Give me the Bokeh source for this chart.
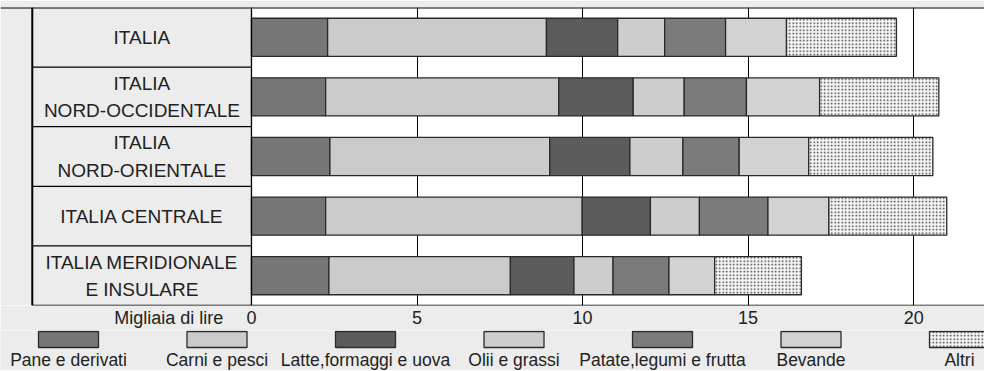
from bokeh.plotting import figure
from bokeh.models import Range1d, FixedTicker, Span, BoxAnnotation, ColumnDataSource
from bokeh.layouts import column
from bokeh.embed import file_html
from bokeh.resources import INLINE
from bokeh.core.properties import value

# ---------------- data ----------------
regions = ["ITALIA", "ITALIA\nNORD-OCCIDENTALE", "ITALIA\nNORD-ORIENTALE",
           "ITALIA CENTRALE", "ITALIA MERIDIONALE\nE INSULARE"]
categories = ["Pane e derivati", "Carni e pesci", "Latte,formaggi e uova",
              "Olii e grassi", "Patate,legumi e frutta", "Bevande", "Altri"]
pane = [2.30, 2.24, 2.37, 2.24, 2.34]
carni = [6.61, 7.04, 6.64, 7.75, 5.48]
latte = [2.15, 2.25, 2.42, 2.06, 1.92]
olii = [1.42, 1.54, 1.60, 1.48, 1.18]
patate = [1.84, 1.88, 1.70, 2.07, 1.69]
bevande = [1.84, 2.21, 2.10, 1.84, 1.38]
altri = [3.32, 3.60, 3.75, 3.56, 2.62]
x_ticks = [0, 5, 10, 15, 20]
x_unit_label = "Migliaia di lire"

# ---------------- style ----------------
colors = ["#777777", "#cbcbcb", "#5c5c5c", "#cdcdcd", "#7b7b7b", "#d2d2d2", "#f6f6f6"]
patterns = [" ", " ", " ", " ", " ", " ", "dot"]
FONT = value("Liberation Sans")
PAPER = "#ececec"
INK = "#222222"
X_MIN, X_MAX = -7.58, 22.14      # visible range (includes the label panel on the left)
X_PANEL = -6.62                  # left border of the label panel
n = len(regions)

series = [pane, carni, latte, olii, patate, bevande, altri]
data = {"row": [n - i - 0.5 for i in range(n)], "label": regions}
for c, s in zip(categories, series):
    data[c] = s
src = ColumnDataSource(data)

p = figure(frame_width=984, frame_height=298,
           x_range=Range1d(X_MIN, X_MAX), y_range=Range1d(0, n),
           output_backend="svg", toolbar_location=None,
           min_border_left=0, min_border_right=0, min_border_top=7, min_border_bottom=0,
           background_fill_color="white", border_fill_color=PAPER,
           outline_line_color=None, y_axis_location=None)

# label panel background
p.add_layout(BoxAnnotation(right=0, fill_color=PAPER, fill_alpha=1, line_color=None, level="underlay"))

# grid
p.xgrid.ticker = FixedTicker(ticks=[t for t in x_ticks if t > 0])
p.xgrid.grid_line_color = "black"
p.xgrid.grid_line_width = 1
p.ygrid.visible = False

# bars
p.hbar_stack(categories, y="row", height=0.64, source=src,
             fill_color=colors, line_color="#2a2a2a", line_width=1.3,
             hatch_pattern=patterns, hatch_color="#3a3a3a", hatch_scale=3.5, hatch_weight=0.8)

# frame lines
p.add_layout(Span(location=n, dimension="width", line_color="black", line_width=2))
p.add_layout(Span(location=X_PANEL, dimension="height", line_color="black", line_width=2))
p.add_layout(Span(location=0, dimension="height", line_color="black", line_width=1.3))
p.segment(x0=[X_PANEL] * (n - 1), x1=[0] * (n - 1), y0=list(range(1, n)), y1=list(range(1, n)),
          line_color="black", line_width=1.3)
p.segment(x0=[X_PANEL], x1=[X_MAX], y0=[0], y1=[0], line_color="black", line_width=1.5)

# region labels
p.text(x=(X_PANEL + 0) / 2, y="row", text="label", source=src,
       text_align="center", text_baseline="middle", text_font=FONT,
       text_font_size="19px", text_color=INK, text_line_height=1.3)

# axis
ax = p.xaxis[0]
ax.ticker = FixedTicker(ticks=[-2.5] + x_ticks)
ax.major_label_overrides = {-2.5: x_unit_label}
ax.major_tick_out = 0
ax.major_tick_in = 0
ax.minor_tick_line_color = None
ax.axis_line_color = None
ax.major_label_text_font = "Liberation Sans"
ax.major_label_text_font_size = "18px"
ax.major_label_text_color = INK
ax.major_label_standoff = 2

# ---------------- legend ----------------
LH = 40
lg = figure(frame_width=984, frame_height=LH, x_range=Range1d(0, 984), y_range=Range1d(LH, 0),
            output_backend="svg", toolbar_location=None, min_border=0,
            x_axis_location=None, y_axis_location=None,
            background_fill_color=PAPER, border_fill_color=PAPER, outline_line_color=None)
lg.xgrid.visible = False
lg.ygrid.visible = False
lsrc = ColumnDataSource({"x": [68 + i * 148.5 for i in range(len(categories))],
                         "name": categories, "color": colors, "pat": patterns})
lg.rect(x="x", y=9, width=60, height=16, source=lsrc, fill_color="color",
        line_color="#2a2a2a", line_width=1.3, hatch_pattern="pat",
        hatch_color="#3a3a3a", hatch_scale=3.5, hatch_weight=0.8)
lg.text(x="x", y=29, text="name", source=lsrc, text_align="center", text_baseline="middle",
        text_font=FONT, text_font_size="17.5px", text_color=INK)

layout = column(p, lg, spacing=0)
open("out.html", "w").write(file_html(layout, INLINE))
